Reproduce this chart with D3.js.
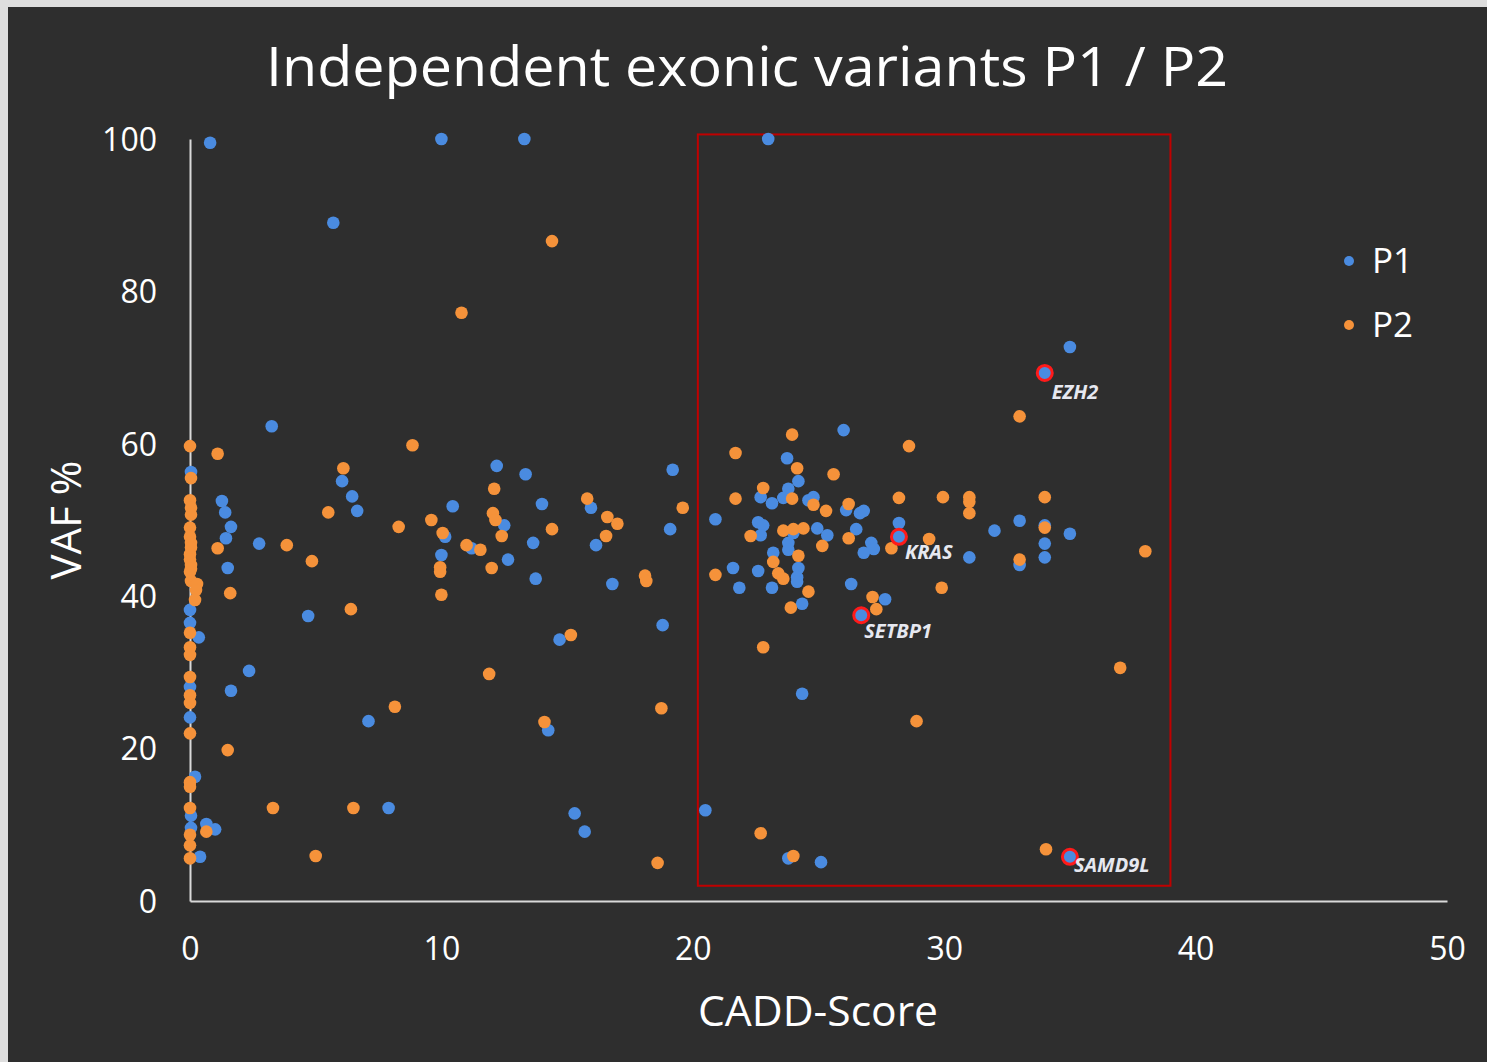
<!DOCTYPE html>
<html>
<head>
<meta charset="utf-8">
<script src="https://cdn.jsdelivr.net/npm/d3@7"></script>
<style>
  body { margin: 0; background: #dedede; }
  svg { display: block; }
  text { font-family: "Open Sans", "Noto Sans", sans-serif; }
</style>
</head>
<body>
<svg id="chart" width="1487" height="1062"></svg>
<script>
// CADD score / VAF % pairs
var p1Cadd = [0.8, 10, 13.3, 23.0, 5.7, 35.0, 34.0, 3.25, 26.0, 23.75, 0.04, 12.2, 19.2, 13.35, 24.2, 6.05,
  6.45, 14.0, 1.27, 6.65, 1.4, 10.45, 15.95, 23.8, 22.7, 23.15, 23.6, 24.6, 24.8, 26.1, 26.65, 26.8,
  20.9, 22.6, 22.8, 22.7, 24.0, 24.95, 25.35, 26.5, 27.1, 27.2, 26.8, 28.2, 28.2, 23.8, 23.8, 23.2,
  24.2, 24.15, 24.15, 21.6, 22.6, 21.85, 23.15, 26.3, 27.65, 24.35, 26.7, 24.35, 20.5, 23.8, 25.1, 35.0,
  33.0, 32.0, 34.0, 35.0, 34.0, 34.0, 31.0, 33.0, 1.63, 1.43, 2.75, 1.5, 4.7, 0.35, 2.35, 1.63, 7.1,
  0, 0, 0, 0, 0.2, 0.04, 0.04, 0.65, 1.0, 0.4, 12.5, 10.15, 11.2, 10.0, 12.65, 13.65, 13.75, 16.15,
  16.8, 19.1, 18.8, 14.7, 14.25, 7.9, 15.3, 15.7];
var p1Vaf = [99.5, 100, 100, 100, 89.0, 72.7, 69.3, 62.3, 61.8, 58.1, 56.3, 57.1, 56.6, 56.0, 55.1, 55.1,
  53.1, 52.1, 52.5, 51.2, 51.0, 51.8, 51.6, 54.1, 53.0, 52.2, 52.9, 52.6, 53.0, 51.3, 50.9, 51.2,
  50.1, 49.7, 49.3, 48.0, 48.3, 48.9, 48.0, 48.8, 47.0, 46.2, 45.7, 49.6, 47.8, 47.0, 46.1, 45.7,
  43.7, 42.5, 41.9, 43.7, 43.3, 41.1, 41.1, 41.6, 39.6, 39.0, 37.5, 27.2, 11.9, 5.6, 5.1, 5.8,
  49.9, 48.6, 49.3, 48.2, 46.9, 45.1, 45.1, 44.1, 49.1, 47.6, 46.9, 43.7, 37.4, 34.6, 30.2, 27.6, 23.6,
  38.2, 36.5, 28.1, 24.1, 16.3, 11.2, 9.6, 10.1, 9.4, 5.8, 49.3, 47.8, 46.3, 45.4, 44.8, 47.0, 42.3, 46.7,
  41.6, 48.8, 36.2, 34.3, 22.4, 12.2, 11.5, 9.1];

var p2Cadd = [14.4, 10.8, 8.85, 6.1, 5.5, 8.3, 3.85, 4.85, 6.4, 8.15, 3.3, 6.5, 5.0, 1.5, 1.6, 1.1, 1.1, 0.65,
  12.1, 12.05, 12.15, 12.4, 14.4, 9.6, 10.05, 11.0, 11.55, 9.95, 9.95, 12.0, 10.0, 15.8, 16.6, 17.0, 16.55,
  18.1, 18.15, 19.6, 15.15, 11.9, 14.1, 18.75, 18.6, 21.7, 23.95, 24.15, 25.6, 22.8, 21.7, 23.95, 24.8,
  25.3, 26.2, 28.2, 29.95, 28.6, 22.3, 23.6, 24.0, 24.4, 26.2, 25.15, 27.9, 29.4, 24.2, 23.2, 23.4, 23.6,
  20.9, 24.6, 23.9, 27.15, 27.3, 29.9, 22.8, 33.0, 31.0, 31.0, 31.0, 34.0, 34.0, 33.0, 38.0, 37.0, 28.9,
  22.7, 24.0, 34.05,
  0, 0.04, 0, 0.04, 0.04, 0, 0, 0.04, 0, 0, 0.04, 0, 0.04, 0.28, 0.24, 0.2, 0, 0, 0, 0, 0, 0, 0, 0, 0, 0, 0, 0, 0,
  0.04, 0.04];
var p2Vaf = [86.6, 77.2, 59.8, 56.8, 51.0, 49.1, 46.7, 44.6, 38.3, 25.5, 12.2, 12.2, 5.9, 19.8, 40.4, 46.3, 58.7, 9.1,
  54.1, 50.9, 50.0, 47.9, 48.8, 50.0, 48.3, 46.7, 46.1, 43.8, 43.2, 43.7, 40.2, 52.8, 50.4, 49.5, 47.9,
  42.7, 42.0, 51.6, 34.9, 29.8, 23.5, 25.3, 5.0, 58.8, 61.2, 56.8, 56.0, 54.2, 52.8, 52.8, 52.0,
  51.2, 52.1, 52.9, 53.0, 59.7, 47.9, 48.6, 48.8, 48.9, 47.6, 46.6, 46.3, 47.5, 45.3, 44.5, 43.0, 42.3,
  42.8, 40.6, 38.5, 39.9, 38.3, 41.1, 33.3, 63.6, 53.0, 52.4, 50.9, 53.0, 49.0, 44.8, 45.9, 30.6, 23.6,
  8.9, 5.9, 6.8,
  59.7, 55.5, 52.6, 51.6, 50.7, 49.0, 47.8, 47.0, 45.5, 44.8, 44.1, 43.2, 42.0, 41.6, 40.8, 39.5, 35.2, 33.3,
  32.3, 29.4, 27.0, 26.0, 22.0, 15.6, 15.0, 12.2, 8.7, 7.3, 5.6, 46.4, 43.6];

// highlighted genes (P1)
var geneNames = ["EZH2", "KRAS", "SETBP1", "SAMD9L"];
var geneCadd = [34.0, 28.2, 26.7, 35.0];
var geneVaf = [69.3, 47.8, 37.5, 5.8];
var geneLabelDx = [7, 6, 3, 4];
var geneLabelDy = [19, 15, 16, 8];

// red box around CADD >= 20
var boxCadd = [20.2, 39.0];
var boxVaf = [2.0, 100.6];

var xTicks = [0, 10, 20, 30, 40, 50];
var yTicks = [0, 20, 40, 60, 80, 100];

var colors = { P1: "#4a8be0", P2: "#f5923a" };

var svg = d3.select("#chart");
svg.append("rect").attr("x", 8).attr("y", 7).attr("width", 1479).attr("height", 1055).attr("fill", "#2e2e2e");

var x = d3.scaleLinear().domain([0, 50]).range([190, 1447]);
var y = d3.scaleLinear().domain([0, 100]).range([901, 139]);

// title
svg.append("text")
  .attr("x", 747).attr("y", 86)
  .attr("text-anchor", "middle")
  .attr("fill", "#ffffff")
  .style("font-size", "54px")
  .text("Independent exonic variants P1 / P2")
  .attr("textLength", 962).attr("lengthAdjust", "spacingAndGlyphs");

// axes
var yAxis = svg.append("g")
  .attr("transform", "translate(190,0)")
  .call(d3.axisLeft(y).tickValues(yTicks).tickSize(0).tickSizeOuter(0).tickPadding(33));
var xAxis = svg.append("g")
  .attr("transform", "translate(0,901)")
  .call(d3.axisBottom(x).tickValues(xTicks).tickSize(0).tickSizeOuter(0).tickPadding(36));

[yAxis, xAxis].forEach(function(a) {
  a.select(".domain").attr("stroke", "#d9d9d9").attr("stroke-width", 2);
  a.selectAll("text")
    .attr("fill", "#ffffff")
    .style("font-size", "32px")
    .style("font-family", "\"Open Sans\", sans-serif");
});
yAxis.selectAll("text").attr("dy", "0.35em");
xAxis.selectAll("text").attr("dy", "0.71em");

// axis titles
svg.append("text")
  .attr("transform", "translate(81,520) rotate(-90)")
  .attr("text-anchor", "middle")
  .attr("fill", "#ffffff")
  .style("font-size", "42px")
  .text("VAF %");
svg.append("text")
  .attr("x", 818).attr("y", 1026)
  .attr("text-anchor", "middle")
  .attr("fill", "#ffffff")
  .style("font-size", "42px")
  .text("CADD-Score")
  .attr("textLength", 240).attr("lengthAdjust", "spacingAndGlyphs");

// red rectangle
svg.append("rect")
  .attr("x", x(boxCadd[0])).attr("y", y(boxVaf[1]))
  .attr("width", x(boxCadd[1]) - x(boxCadd[0]))
  .attr("height", y(boxVaf[0]) - y(boxVaf[1]))
  .attr("fill", "none")
  .attr("stroke", "#c00000")
  .attr("stroke-width", 2);

// points
var p1 = p1Cadd.map(function(c, i) { return { cadd: c, vaf: p1Vaf[i] }; });
var p2 = p2Cadd.map(function(c, i) { return { cadd: c, vaf: p2Vaf[i] }; });

svg.append("g").selectAll("circle")
  .data(p1).enter().append("circle")
  .attr("cx", function(d) { return x(d.cadd); })
  .attr("cy", function(d) { return y(d.vaf); })
  .attr("r", 6.3)
  .attr("fill", colors.P1);

svg.append("g").selectAll("circle")
  .data(p2).enter().append("circle")
  .attr("cx", function(d) { return x(d.cadd); })
  .attr("cy", function(d) { return y(d.vaf); })
  .attr("r", 6.3)
  .attr("fill", colors.P2);

// highlighted genes
var genes = geneNames.map(function(g, i) { return { name: g, cadd: geneCadd[i], vaf: geneVaf[i], dx: geneLabelDx[i], dy: geneLabelDy[i] }; });
var hg = svg.append("g");
hg.selectAll("circle")
  .data(genes).enter().append("circle")
  .attr("cx", function(d) { return x(d.cadd); })
  .attr("cy", function(d) { return y(d.vaf); })
  .attr("r", 7.5)
  .attr("fill", colors.P1)
  .attr("stroke", "#ff1a1a")
  .attr("stroke-width", 3);
hg.selectAll("text")
  .data(genes).enter().append("text")
  .attr("x", function(d) { return x(d.cadd) + d.dx; })
  .attr("y", function(d) { return y(d.vaf) + d.dy; })
  .attr("dy", "0.35em")
  .attr("fill", "#e6e8f0")
  .style("font-size", "20px")
  .style("font-weight", "bold")
  .style("font-style", "italic")
  .text(function(d) { return d.name; });

// legend
var legend = svg.append("g");
["P1", "P2"].forEach(function(k, i) {
  legend.append("circle")
    .attr("cx", 1349).attr("cy", 261 + i * 64)
    .attr("r", 5)
    .attr("fill", colors[k]);
  legend.append("text")
    .attr("x", 1372).attr("y", 261 + i * 64)
    .attr("dy", "0.35em")
    .attr("fill", "#ffffff")
    .style("font-size", "35px")
    .text(k);
});
</script>
</body>
</html>
